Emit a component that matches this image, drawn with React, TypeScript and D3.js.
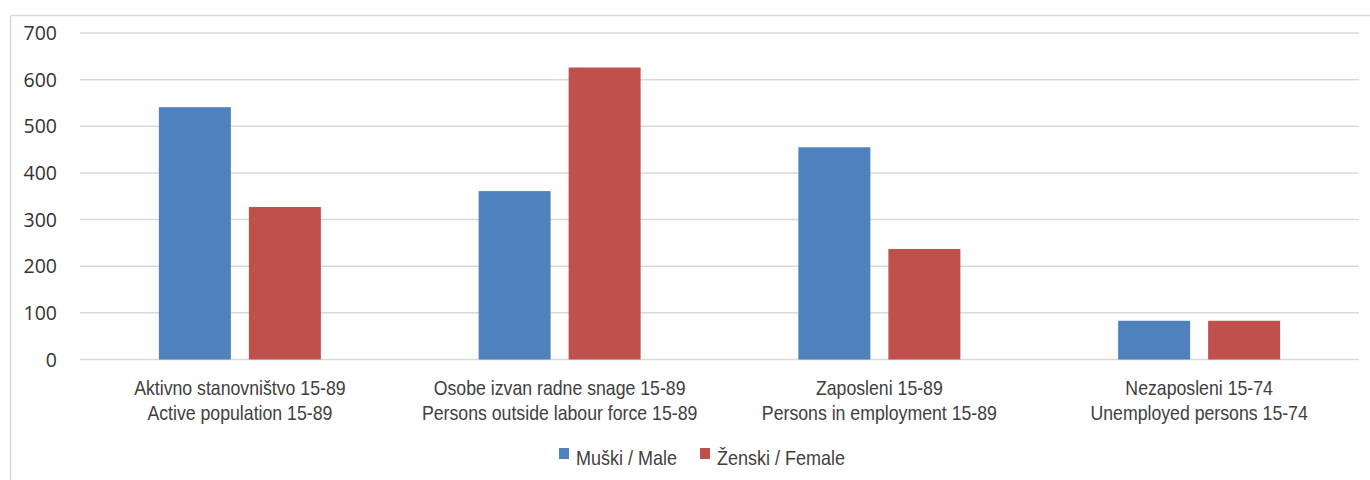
import React from "react";
import * as d3 from "d3";

const categoriesLine1 = [
  "Aktivno stanovništvo 15-89",
  "Osobe izvan radne snage 15-89",
  "Zaposleni 15-89",
  "Nezaposleni 15-74",
];
const categoriesLine2 = [
  "Active population 15-89",
  "Persons outside labour force 15-89",
  "Persons in employment 15-89",
  "Unemployed persons 15-74",
];
const maleValues = [541, 361, 455, 83];
const femaleValues = [327, 626, 237, 83];
const seriesNames = ["Muški / Male", "Ženski / Female"];
const seriesColors = ["#4F81BD", "#C0504D"];
const yTicks = [0, 100, 200, 300, 400, 500, 600, 700];

const W = 1370;
const H = 480;
const plotLeft = 80;
const plotRight = 1359;
const plotTop = 33;
const plotBottom = 359.5;

export default function App() {
  const x = d3
    .scaleBand<number>()
    .domain(d3.range(categoriesLine1.length))
    .range([plotLeft, plotRight])
    .paddingInner(0)
    .paddingOuter(0);
  const y = d3.scaleLinear().domain([0, 700]).range([plotBottom, plotTop]);
  const barW = 72;
  const gap = 18;
  const series = [maleValues, femaleValues];
  const labelFont = "'Liberation Sans', Arial, sans-serif";
  const sx = 0.885;

  return (
    <svg
      width={W}
      height={H}
      style={{ position: "absolute", left: 0, top: 0, background: "#fff" }}
    >
      <rect x={0} y={0} width={W} height={H} fill="#fff" />
      {/* outer border */}
      <line x1={10.5} y1={15.5} x2={W} y2={15.5} stroke="#d9d9d9" strokeWidth={1.5} />
      <line x1={10.5} y1={15.5} x2={10.5} y2={H} stroke="#d9d9d9" strokeWidth={1.5} />
      {/* gridlines */}
      {yTicks.map((t) => (
        <line
          key={t}
          x1={plotLeft}
          x2={plotRight}
          y1={y(t)}
          y2={y(t)}
          stroke="#d9d9d9"
          strokeWidth={1.5}
        />
      ))}
      {/* y tick labels */}
      {yTicks.map((t) => (
        <text
          key={"l" + t}
          x={57}
          y={y(t)}
          dy="0.36em"
          textAnchor="end"
          fontFamily="'Open Sans', sans-serif"
          fontSize={19.5}
          fill="#333"
        >
          {t}
        </text>
      ))}
      {/* bars */}
      {categoriesLine1.map((_, i) => {
        const cx = (x(i) as number) + x.bandwidth() / 2;
        const start = cx - barW - gap / 2;
        return series.map((vals, s) => (
          <rect
            key={i + "-" + s}
            x={start + s * (barW + gap)}
            y={y(vals[i])}
            width={barW}
            height={y(0) - y(vals[i])}
            fill={seriesColors[s]}
          />
        ));
      })}
      {/* category labels */}
      {categoriesLine1.map((c, i) => {
        const cx = (x(i) as number) + x.bandwidth() / 2;
        return (
          <text
            key={"c" + i}
            transform={`translate(${cx},0) scale(${sx},1)`}
            textAnchor="middle"
            fontFamily={labelFont}
            fontSize={20}
            fill="#404040"
          >
            <tspan x={0} y={395}>
              {c}
            </tspan>
            <tspan x={0} y={420}>
              {categoriesLine2[i]}
            </tspan>
          </text>
        );
      })}
      {/* legend */}
      {seriesNames.map((n, s) => {
        const lx = [559, 700][s];
        return (
          <g key={"lg" + s}>
            <rect x={lx} y={448} width={10} height={11} fill={seriesColors[s]} />
            <text
              transform={`translate(${lx + 17},0) scale(0.9,1)`}
              x={0}
              y={465}
              fontFamily={labelFont}
              fontSize={20}
              fill="#404040"
            >
              {n}
            </text>
          </g>
        );
      })}
    </svg>
  );
}
